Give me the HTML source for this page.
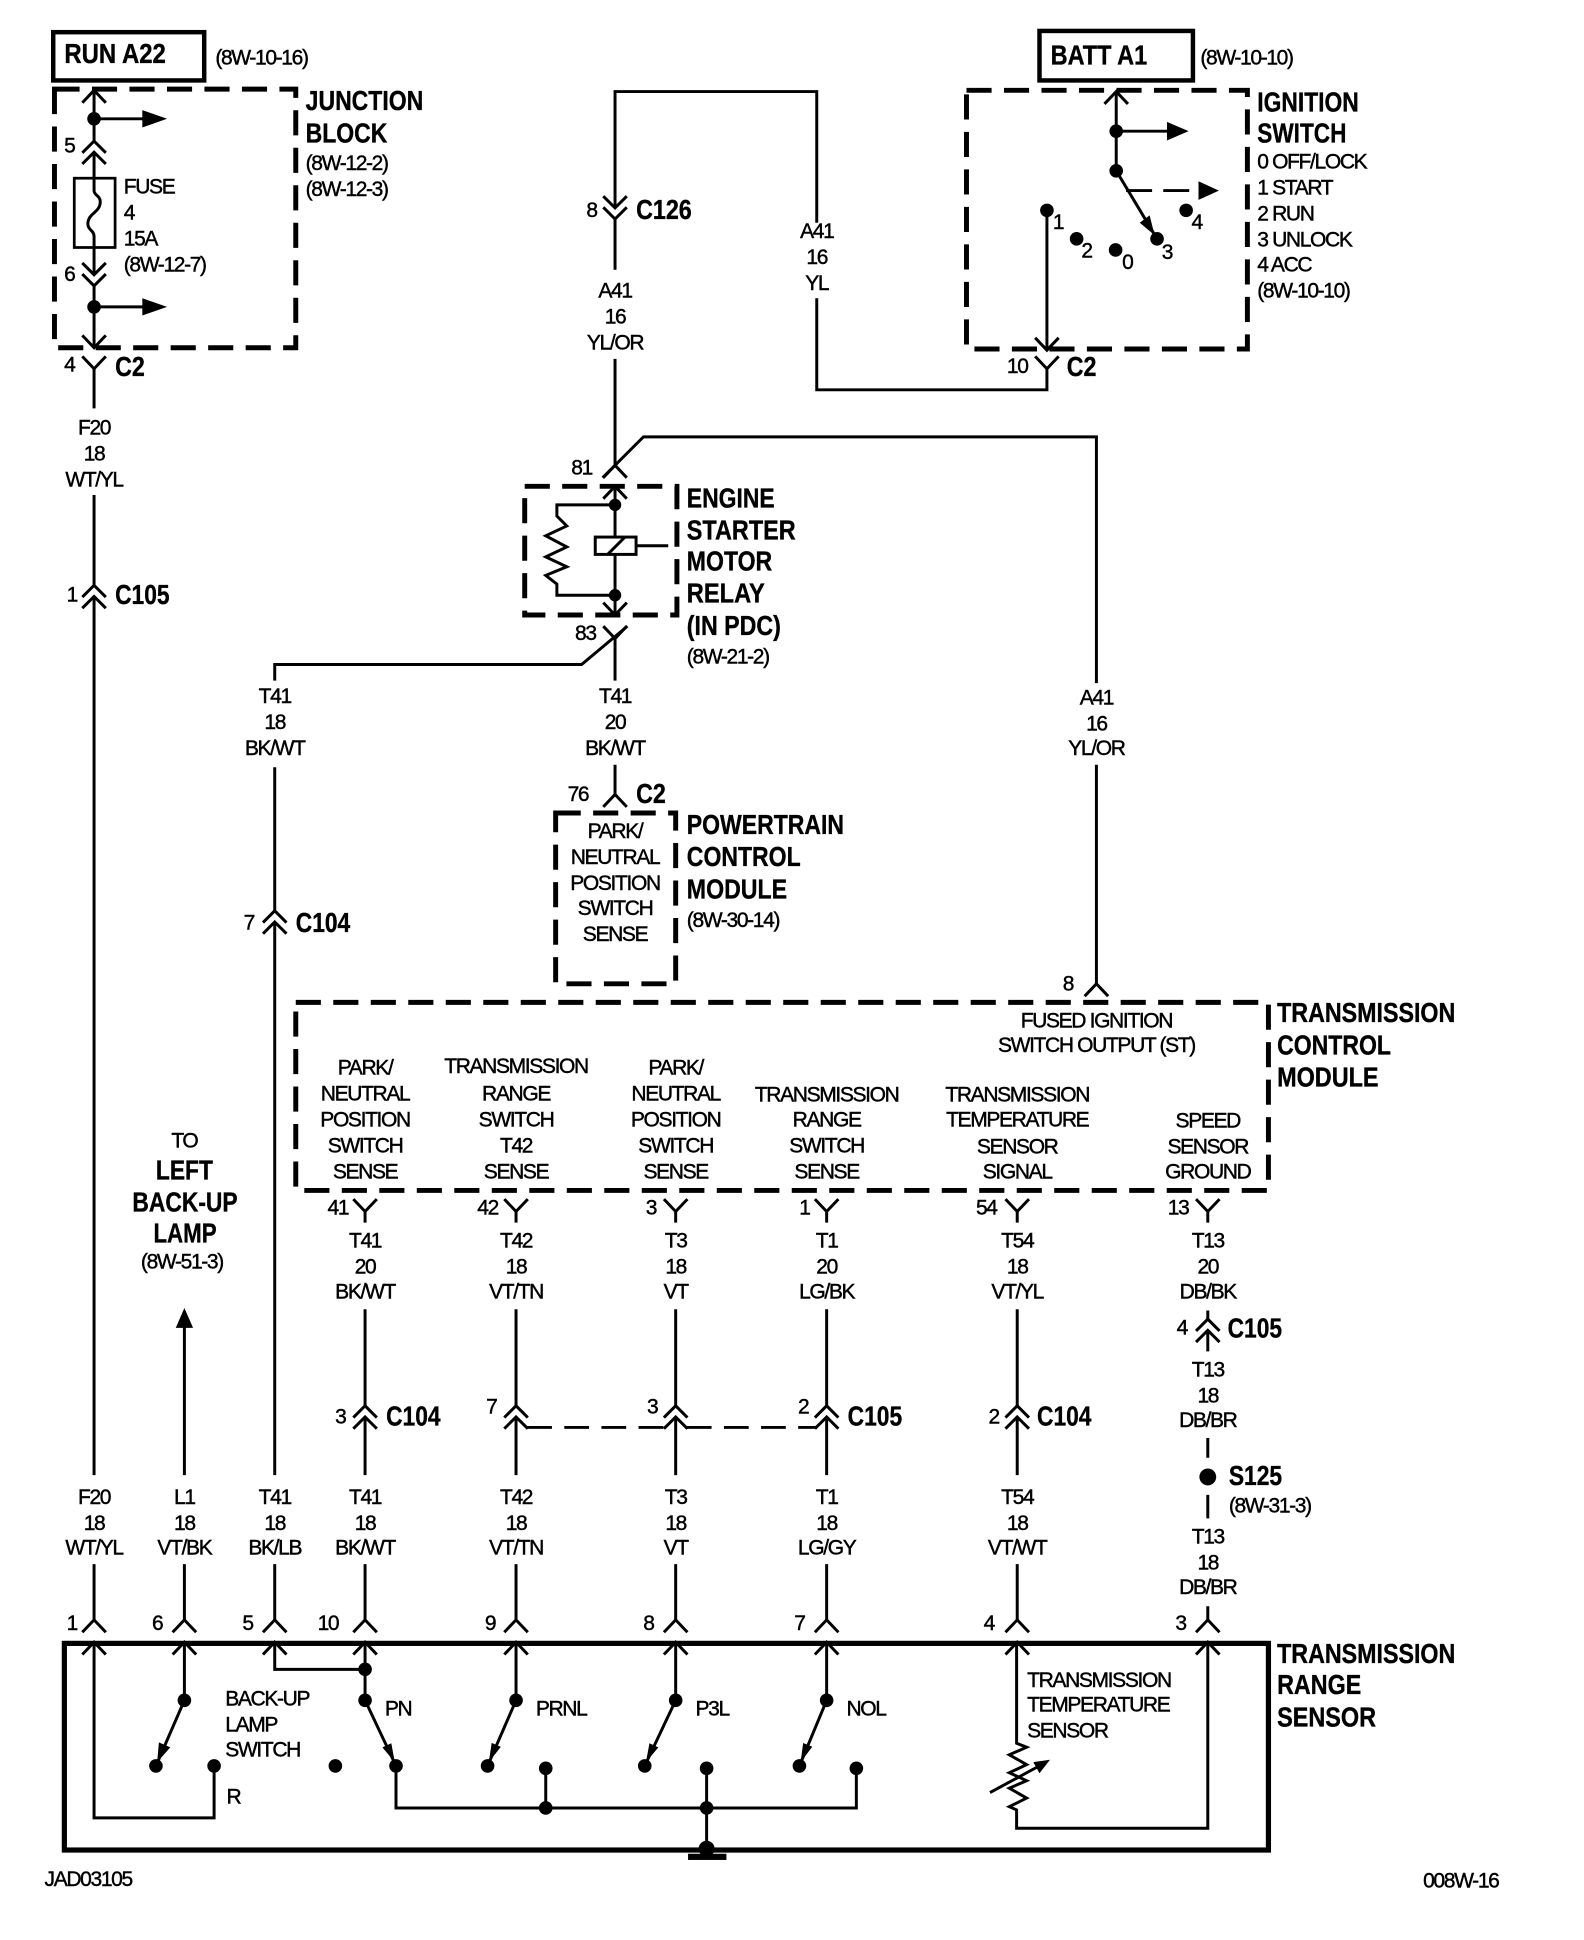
<!DOCTYPE html>
<html><head><meta charset="utf-8"><style>
html,body{margin:0;padding:0;background:#fff}
svg{display:block}
text{font-family:"Liberation Sans",sans-serif;fill:#000}
.s{font-size:17px;letter-spacing:-1.1px;dominant-baseline:central;stroke:#000;stroke-width:.35}
.b{font-size:22.5px;font-weight:bold;stroke:#000;stroke-width:.3}
.m{text-anchor:middle}
.w{fill:none;stroke:#000;stroke-width:2.4}
.d{fill:none;stroke:#000;stroke-width:4;stroke-dasharray:20.3 10}
.f{fill:#000}
</style></head><body>
<svg width="1584" height="1940" viewBox="0 0 1280 1567.7" xmlns="http://www.w3.org/2000/svg">
<defs>
<path id="u" class="w" d="M-9.5 10L0 0L9.5 10"/>
<path id="n" class="w" d="M-9.5 -10L0 0L9.5 -10"/>
<path id="uu" class="w" d="M-9.5 9.5L0 0L9.5 9.5M-9.5 18.5L0 9L9.5 18.5"/>
<path id="nn" class="w" d="M-9.5 -9.5L0 0L9.5 -9.5M-9.5 -18.5L0 -9L9.5 -18.5"/>
</defs>

<!-- Boxes -->
<rect x="43" y="26" width="122" height="39" fill="none" stroke="#000" stroke-width="3.6"/>
<rect x="840" y="25" width="124" height="40" fill="none" stroke="#000" stroke-width="3.6"/>
<rect x="44" y="72" width="195" height="209" class="d"/>
<rect x="781" y="73" width="227" height="209" class="d"/>
<rect x="424" y="393" width="123" height="104" class="d"/>
<rect x="449" y="657" width="97" height="138" class="d"/>
<rect x="239" y="810" width="786" height="152" class="d"/>
<rect x="52" y="1328" width="973" height="167" fill="none" stroke="#000" stroke-width="4.2"/>

<!-- Junction block -->
<use href="#u" x="76" y="73"/>
<path class="w" d="M76 73V114M76 123V154C76 158 81 158 81 163C81 172 71 172 71 181C71 186 76 186 76 191V222M76 231V281M76 96H116M76 248H116"/>
<rect x="60" y="144" width="33" height="56" fill="none" stroke="#000" stroke-width="2.2"/>
<circle cx="76" cy="96" r="5.5" class="f"/><circle cx="76" cy="248" r="5.5" class="f"/>
<path class="f" d="M115 89L135 96L115 103ZM115 241L135 248L115 255Z"/>
<use href="#uu" x="76" y="114"/><use href="#nn" x="76" y="231"/><use href="#n" x="76" y="281"/>
<use href="#n" x="76" y="298"/>
<path class="w" d="M76 298V330M76 400V473M76 482V1192M76 1264V1309M76 1328V1469H173V1427"/>
<use href="#uu" x="76" y="473"/>

<!-- Center top wires -->
<path class="w" d="M497 218V177M497 168V74H660V180M660 241V315H846V298M846 283V170M497 290V376M487 386L520 353H886V552M886 618V795"/>
<use href="#nn" x="497" y="177"/><use href="#u" x="497" y="376"/><use href="#u" x="497" y="393"/>
<use href="#n" x="846" y="298"/><use href="#n" x="846" y="283"/>

<!-- Ignition -->
<use href="#u" x="902" y="74"/>
<path class="w" d="M902 74V138M902 106H944M902 138L935 193"/>
<path class="w" stroke-dasharray="21 9" d="M910 154H968"/>
<path class="f" d="M943 98.500L960.500 106L943 113.500ZM968.500 146.500L985 154L968.500 161.500ZM933 190L929 174L921 180Z"/>
<circle cx="902" cy="106" r="5.500" class="f"/><circle cx="902" cy="138" r="5.500" class="f"/>
<circle cx="846" cy="170" r="5.500" class="f"/><circle cx="870" cy="193" r="5.500" class="f"/>
<circle cx="901.500" cy="202" r="5.500" class="f"/><circle cx="935" cy="193" r="5.500" class="f"/><circle cx="958.500" cy="170" r="5.500" class="f"/>

<!-- Relay -->
<path class="w" d="M497 393V434M497 448V497M497 408H450V417L458 425L441 433L458 442L441 450L458 458L441 465L450 472V481H497"/>
<rect x="481" y="434" width="33" height="14" fill="none" stroke="#000" stroke-width="2.4"/>
<path class="w" d="M491 448L505 434M514 441H540"/>
<circle cx="497" cy="408" r="5" class="f"/><circle cx="497" cy="481" r="5" class="f"/>
<use href="#n" x="497" y="497"/><use href="#n" x="497" y="516"/>
<path class="w" d="M497 516V550M497 618V642M222 620V736M222 550V537H470L507 506"/>
<use href="#u" x="497" y="642"/>
<use href="#u" x="886" y="795"/>
<use href="#uu" x="222" y="736"/>
<path class="w" d="M222 745V1192M222 1264V1309"/>

<!-- Wires under TCM -->
<use href="#n" x="295" y="979"/><use href="#n" x="417" y="979"/><use href="#n" x="546" y="979"/><use href="#n" x="668" y="979"/><use href="#n" x="822" y="979"/><use href="#n" x="976" y="979"/>
<path class="w" d="M295 979V988M417 979V988M546 979V988M668 979V988M822 979V988M976 979V988"/>
<path class="w" d="M295 1058V1136M417 1058V1136M546 1058V1136M668 1058V1136M822 1058V1136M295 1145V1192M417 1145V1192M546 1145V1192M668 1145V1192M822 1145V1192M295 1264V1309M417 1264V1309M546 1264V1309M668 1264V1309M822 1264V1309M976 1059V1066M976 1075V1092M976 1162V1178M976 1208V1227M976 1298V1309M149 1264V1309M149 1192V1072"/>
<use href="#uu" x="295" y="1136"/><use href="#uu" x="417" y="1136"/><use href="#uu" x="546" y="1136"/><use href="#uu" x="668" y="1136"/><use href="#uu" x="822" y="1136"/><use href="#uu" x="976" y="1066"/>
<path class="w" stroke-dasharray="20 10" d="M426 1153.500H536"/><path class="w" stroke-dasharray="20 10" d="M555 1153.500H659"/>
<circle cx="976" cy="1193.500" r="6.800" class="f"/>
<path class="f" d="M149 1057L156 1073H142Z"/>

<!-- Bottom pins -->
<use href="#u" x="76" y="1309"/><use href="#u" x="149" y="1309"/><use href="#u" x="222" y="1309"/><use href="#u" x="295" y="1309"/><use href="#u" x="417" y="1309"/><use href="#u" x="546" y="1309"/><use href="#u" x="668" y="1309"/><use href="#u" x="822" y="1309"/><use href="#u" x="976" y="1309"/>
<use href="#u" x="76" y="1327"/><use href="#u" x="149" y="1327"/><use href="#u" x="222" y="1327"/><use href="#u" x="295" y="1327"/><use href="#u" x="417" y="1327"/><use href="#u" x="546" y="1327"/><use href="#u" x="668" y="1327"/><use href="#u" x="822" y="1327"/><use href="#u" x="976" y="1327"/>
<path class="w" d="M149 1328V1374L126 1427M222 1328V1349H295M295 1328V1374L320 1427V1461H692V1429M417 1328V1374L394 1427M546 1328V1374L521 1427M668 1328V1374L646 1427M441 1429V1461M571 1429V1494"/>
<path class="f" d="M127 1424L137.600 1412L128.400 1408ZM319 1424L316.200 1408.700L309 1412ZM395 1424L404.700 1411.600L397.300 1408.400ZM522 1424L532 1412L524.800 1408.700ZM647 1424L656.400 1411.500L649 1408.500Z"/>
<circle cx="149" cy="1374" r="5.500" class="f"/><circle cx="126" cy="1427" r="5.500" class="f"/><circle cx="173" cy="1427" r="5.500" class="f"/>
<circle cx="295" cy="1349" r="5.500" class="f"/><circle cx="295" cy="1374" r="5.500" class="f"/><circle cx="271" cy="1427" r="5.500" class="f"/><circle cx="320" cy="1427" r="5.500" class="f"/>
<circle cx="417" cy="1374" r="5.500" class="f"/><circle cx="394" cy="1427" r="5.500" class="f"/><circle cx="441" cy="1429" r="5.500" class="f"/><circle cx="441" cy="1461" r="5.500" class="f"/>
<circle cx="546" cy="1374" r="5.500" class="f"/><circle cx="521" cy="1427" r="5.500" class="f"/><circle cx="571" cy="1429" r="5.500" class="f"/><circle cx="571" cy="1461" r="5.500" class="f"/><circle cx="571" cy="1494" r="6.500" class="f"/>
<circle cx="668" cy="1374" r="5.500" class="f"/><circle cx="646" cy="1427" r="5.500" class="f"/><circle cx="692" cy="1429" r="5.500" class="f"/>
<rect x="556" y="1498" width="31" height="5" class="f"/>
<path class="w" d="M821.500 1328V1408.700L829.600 1411.900L815.600 1418L829.600 1426L815.600 1432.500L829.600 1439L815.600 1445L829.600 1453L815.600 1460L821.500 1462.600V1477.400H976V1328"/>
<path class="w" d="M800 1448.600L838 1428"/>
<path class="f" d="M848.500 1422L835 1424L840 1433Z"/>

<!-- Bold labels -->
<text class="b" x="52" y="51" textLength="82" lengthAdjust="spacingAndGlyphs">RUN A22</text>
<text class="b" x="849" y="52" textLength="78" lengthAdjust="spacingAndGlyphs">BATT A1</text>
<text class="b" x="247" y="89" textLength="95" lengthAdjust="spacingAndGlyphs">JUNCTION</text><text class="b" x="247" y="115" textLength="66" lengthAdjust="spacingAndGlyphs">BLOCK</text>
<text class="b" x="1016" y="90" textLength="82" lengthAdjust="spacingAndGlyphs">IGNITION</text><text class="b" x="1016" y="115" textLength="72" lengthAdjust="spacingAndGlyphs">SWITCH</text>
<text class="b" x="93" y="304" textLength="24" lengthAdjust="spacingAndGlyphs">C2</text><text class="b" x="862" y="304" textLength="24" lengthAdjust="spacingAndGlyphs">C2</text>
<text class="b" x="514" y="177" textLength="45" lengthAdjust="spacingAndGlyphs">C126</text><text class="b" x="93" y="488" textLength="44" lengthAdjust="spacingAndGlyphs">C105</text>
<text class="b" x="555" y="410" textLength="71" lengthAdjust="spacingAndGlyphs">ENGINE</text><text class="b" x="555" y="436" textLength="88" lengthAdjust="spacingAndGlyphs">STARTER</text><text class="b" x="555" y="461" textLength="69" lengthAdjust="spacingAndGlyphs">MOTOR</text><text class="b" x="555" y="487" textLength="63" lengthAdjust="spacingAndGlyphs">RELAY</text><text class="b" x="555" y="513" textLength="76" lengthAdjust="spacingAndGlyphs">(IN PDC)</text>
<text class="b" x="514" y="649" textLength="24" lengthAdjust="spacingAndGlyphs">C2</text>
<text class="b" x="555" y="674" textLength="127" lengthAdjust="spacingAndGlyphs">POWERTRAIN</text><text class="b" x="555" y="700" textLength="92" lengthAdjust="spacingAndGlyphs">CONTROL</text><text class="b" x="555" y="726" textLength="81" lengthAdjust="spacingAndGlyphs">MODULE</text>
<text class="b" x="239" y="753" textLength="44" lengthAdjust="spacingAndGlyphs">C104</text>
<text class="b" x="1032" y="826" textLength="144" lengthAdjust="spacingAndGlyphs">TRANSMISSION</text><text class="b" x="1032" y="852" textLength="92" lengthAdjust="spacingAndGlyphs">CONTROL</text><text class="b" x="1032" y="878" textLength="82" lengthAdjust="spacingAndGlyphs">MODULE</text>
<text class="b" x="126" y="953" textLength="46" lengthAdjust="spacingAndGlyphs">LEFT</text><text class="b" x="107" y="979" textLength="85" lengthAdjust="spacingAndGlyphs">BACK-UP</text><text class="b" x="124" y="1004" textLength="51" lengthAdjust="spacingAndGlyphs">LAMP</text>
<text class="b" x="992" y="1081" textLength="44" lengthAdjust="spacingAndGlyphs">C105</text><text class="b" x="312" y="1152" textLength="44" lengthAdjust="spacingAndGlyphs">C104</text><text class="b" x="685" y="1152" textLength="44" lengthAdjust="spacingAndGlyphs">C105</text><text class="b" x="838" y="1152" textLength="44" lengthAdjust="spacingAndGlyphs">C104</text>
<text class="b" x="993" y="1200" textLength="43" lengthAdjust="spacingAndGlyphs">S125</text>
<text class="b" x="1032" y="1344" textLength="144" lengthAdjust="spacingAndGlyphs">TRANSMISSION</text><text class="b" x="1032" y="1369" textLength="68" lengthAdjust="spacingAndGlyphs">RANGE</text><text class="b" x="1032" y="1395" textLength="80" lengthAdjust="spacingAndGlyphs">SENSOR</text>

<!-- Small labels -->
<text class="s" x="174" y="47">(8W-10-16)</text><text class="s" x="970" y="47">(8W-10-10)</text>
<text class="s" x="247" y="132">(8W-12-2)</text><text class="s" x="247" y="153">(8W-12-3)</text>
<text class="s" x="100" y="151">FUSE</text><text class="s" x="100" y="172">4</text><text class="s" x="100" y="193">15A</text><text class="s" x="100" y="214">(8W-12-7)</text>
<text class="s m" x="56" y="118">5</text><text class="s m" x="56" y="222">6</text><text class="s m" x="56" y="295">4</text><text class="s m" x="58" y="481">1</text>
<text class="s m" x="76" y="346">F20</text><text class="s m" x="76" y="367">18</text><text class="s m" x="76" y="388">WT/YL</text>
<text class="s m" x="478" y="170">8</text>
<text class="s m" x="497" y="235">A41</text><text class="s m" x="497" y="256">16</text><text class="s m" x="497" y="277">YL/OR</text>
<text class="s m" x="660" y="187">A41</text><text class="s m" x="660" y="208">16</text><text class="s m" x="660" y="229">YL</text>
<text class="s" x="1016" y="131">0 OFF/LOCK</text><text class="s" x="1016" y="152">1 START</text><text class="s" x="1016" y="173">2 RUN</text><text class="s" x="1016" y="194">3 UNLOCK</text><text class="s" x="1016" y="214">4 ACC</text><text class="s" x="1016" y="235">(8W-10-10)</text>
<text class="s m" x="855" y="180">1</text><text class="s m" x="878" y="203">2</text><text class="s m" x="911" y="212">0</text><text class="s m" x="943" y="204">3</text><text class="s m" x="967" y="180">4</text>
<text class="s m" x="822" y="296">10</text>
<text class="s m" x="470" y="378">81</text><text class="s m" x="473" y="512">83</text>
<text class="s" x="555" y="531">(8W-21-2)</text>
<text class="s m" x="222" y="563">T41</text><text class="s m" x="222" y="584">18</text><text class="s m" x="222" y="605">BK/WT</text>
<text class="s m" x="497" y="563">T41</text><text class="s m" x="497" y="584">20</text><text class="s m" x="497" y="605">BK/WT</text>
<text class="s m" x="886" y="564">A41</text><text class="s m" x="886" y="585">16</text><text class="s m" x="886" y="605">YL/OR</text>
<text class="s m" x="467" y="642">76</text>
<text class="s m" x="497" y="672">PARK/</text><text class="s m" x="497" y="693">NEUTRAL</text><text class="s m" x="497" y="714">POSITION</text><text class="s m" x="497" y="734">SWITCH</text><text class="s m" x="497" y="755">SENSE</text>
<text class="s" x="555" y="744">(8W-30-14)</text>
<text class="s m" x="201" y="746">7</text><text class="s m" x="863" y="795">8</text>
<text class="s m" x="886" y="825">FUSED IGNITION</text><text class="s m" x="886" y="845">SWITCH OUTPUT (ST)</text>
<text class="s m" x="295" y="863">PARK/</text><text class="s m" x="295" y="884">NEUTRAL</text><text class="s m" x="295" y="905">POSITION</text><text class="s m" x="295" y="926">SWITCH</text><text class="s m" x="295" y="947">SENSE</text>
<text class="s m" x="417" y="862">TRANSMISSION</text><text class="s m" x="417" y="884">RANGE</text><text class="s m" x="417" y="905">SWITCH</text><text class="s m" x="417" y="926">T42</text><text class="s m" x="417" y="947">SENSE</text>
<text class="s m" x="546" y="863">PARK/</text><text class="s m" x="546" y="884">NEUTRAL</text><text class="s m" x="546" y="905">POSITION</text><text class="s m" x="546" y="926">SWITCH</text><text class="s m" x="546" y="947">SENSE</text>
<text class="s m" x="668" y="885">TRANSMISSION</text><text class="s m" x="668" y="905">RANGE</text><text class="s m" x="668" y="926">SWITCH</text><text class="s m" x="668" y="947">SENSE</text>
<text class="s m" x="822" y="885">TRANSMISSION</text><text class="s m" x="822" y="905">TEMPERATURE</text><text class="s m" x="822" y="927">SENSOR</text><text class="s m" x="822" y="947">SIGNAL</text>
<text class="s m" x="976" y="906">SPEED</text><text class="s m" x="976" y="927">SENSOR</text><text class="s m" x="976" y="947">GROUND</text>
<text class="s m" x="273" y="976">41</text><text class="s m" x="394" y="976">42</text><text class="s m" x="526" y="976">3</text><text class="s m" x="650" y="976">1</text><text class="s m" x="797" y="976">54</text><text class="s m" x="952" y="976">13</text>
<text class="s m" x="295" y="1003">T41</text><text class="s m" x="295" y="1024">20</text><text class="s m" x="295" y="1044">BK/WT</text>
<text class="s m" x="417" y="1003">T42</text><text class="s m" x="417" y="1024">18</text><text class="s m" x="417" y="1044">VT/TN</text>
<text class="s m" x="546" y="1003">T3</text><text class="s m" x="546" y="1024">18</text><text class="s m" x="546" y="1044">VT</text>
<text class="s m" x="668" y="1003">T1</text><text class="s m" x="668" y="1024">20</text><text class="s m" x="668" y="1044">LG/BK</text>
<text class="s m" x="822" y="1003">T54</text><text class="s m" x="822" y="1024">18</text><text class="s m" x="822" y="1044">VT/YL</text>
<text class="s m" x="976" y="1003">T13</text><text class="s m" x="976" y="1024">20</text><text class="s m" x="976" y="1044">DB/BK</text>
<text class="s m" x="149" y="922">TO</text><text class="s m" x="147" y="1020">(8W-51-3)</text>
<text class="s m" x="955" y="1073">4</text><text class="s m" x="976" y="1107">T13</text><text class="s m" x="976" y="1128">18</text><text class="s m" x="976" y="1148">DB/BR</text>
<text class="s" x="993" y="1217">(8W-31-3)</text>
<text class="s m" x="976" y="1242">T13</text><text class="s m" x="976" y="1263">18</text><text class="s m" x="976" y="1283">DB/BR</text>
<text class="s m" x="275" y="1145">3</text><text class="s m" x="397" y="1137">7</text><text class="s m" x="527" y="1137">3</text><text class="s m" x="649" y="1137">2</text><text class="s m" x="803" y="1145">2</text>
<text class="s m" x="76" y="1210">F20</text><text class="s m" x="76" y="1231">18</text><text class="s m" x="76" y="1251">WT/YL</text>
<text class="s m" x="149" y="1210">L1</text><text class="s m" x="149" y="1231">18</text><text class="s m" x="149" y="1251">VT/BK</text>
<text class="s m" x="222" y="1210">T41</text><text class="s m" x="222" y="1231">18</text><text class="s m" x="222" y="1251">BK/LB</text>
<text class="s m" x="295" y="1210">T41</text><text class="s m" x="295" y="1231">18</text><text class="s m" x="295" y="1251">BK/WT</text>
<text class="s m" x="417" y="1210">T42</text><text class="s m" x="417" y="1231">18</text><text class="s m" x="417" y="1251">VT/TN</text>
<text class="s m" x="546" y="1210">T3</text><text class="s m" x="546" y="1231">18</text><text class="s m" x="546" y="1251">VT</text>
<text class="s m" x="668" y="1210">T1</text><text class="s m" x="668" y="1231">18</text><text class="s m" x="668" y="1251">LG/GY</text>
<text class="s m" x="822" y="1210">T54</text><text class="s m" x="822" y="1231">18</text><text class="s m" x="822" y="1251">VT/WT</text>
<text class="s m" x="58" y="1312">1</text><text class="s m" x="127" y="1312">6</text><text class="s m" x="200" y="1312">5</text><text class="s m" x="265" y="1312">10</text><text class="s m" x="396" y="1312">9</text><text class="s m" x="524" y="1312">8</text><text class="s m" x="646" y="1312">7</text><text class="s m" x="799" y="1312">4</text><text class="s m" x="954" y="1312">3</text>
<text class="s" x="182" y="1373">BACK-UP</text><text class="s" x="182" y="1394">LAMP</text><text class="s" x="182" y="1414">SWITCH</text>
<text class="s" x="183" y="1452">R</text>
<text class="s" x="311" y="1381">PN</text><text class="s" x="433" y="1381">PRNL</text><text class="s" x="562" y="1381">P3L</text><text class="s" x="684" y="1381">NOL</text>
<text class="s" x="830" y="1358">TRANSMISSION</text><text class="s" x="830" y="1378">TEMPERATURE</text><text class="s" x="830" y="1399">SENSOR</text>
<text class="s" x="36" y="1519">JAD03105</text><text class="s" x="1150" y="1520">008W-16</text>
</svg>
</body></html>
